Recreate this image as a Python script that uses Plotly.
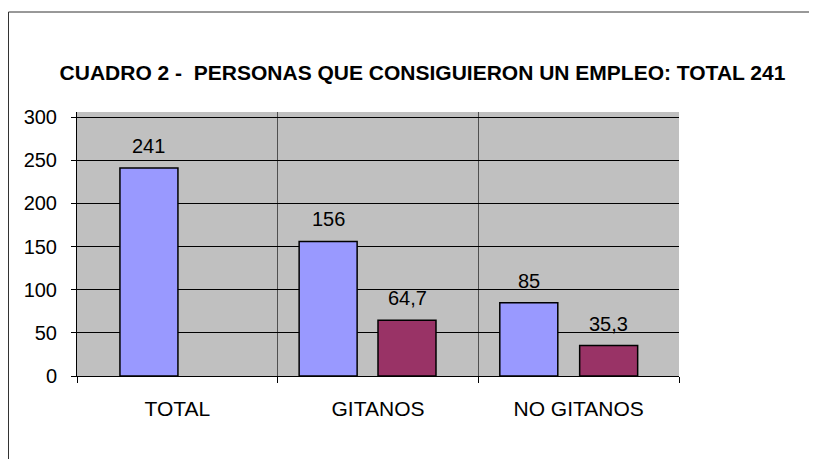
import plotly.graph_objects as go

categories = ["TOTAL", "GITANOS", "NO GITANOS"]
personas = [241, 156, 85]
porcentaje = [None, 64.7, 35.3]
labels_personas = ["241", "156", "85"]
labels_porcentaje = ["", "64,7", "35,3"]
y_ticks = [0, 50, 100, 150, 200, 250, 300]
title_text = "CUADRO 2 -\u00a0 PERSONAS QUE CONSIGUIERON UN EMPLEO: TOTAL 241"

# style
BLUE = "#9999FF"
MAROON = "#993366"
GRAY = "#C0C0C0"
FONT = "Liberation Sans, Arial, sans-serif"
bar_w = 0.289
blue_off = [-0.286, -0.393, -0.393]
maroon_off = [0.0, 0.0, 0.005]

# the page body adds an 8px offset; margins compensate for it
ML, MR, MT, MB = 69, 146, 104, 91
W, H = 817, 459
PW, PH = W - ML - MR, H - MT - MB

fig = go.Figure()
fig.add_trace(go.Bar(
    x=categories, y=personas, width=bar_w, offset=blue_off,
    marker=dict(color=BLUE, line=dict(color="black", width=1.5)),
    hoverinfo="skip", showlegend=False,
))
fig.add_trace(go.Bar(
    x=categories, y=porcentaje, width=bar_w, offset=maroon_off,
    marker=dict(color=MAROON, line=dict(color="black", width=1.5)),
    hoverinfo="skip", showlegend=False,
))

annotations = []
for i, (v, t) in enumerate(zip(personas, labels_personas)):
    annotations.append(dict(x=i + blue_off[i] + bar_w / 2, y=v, text=t,
                            showarrow=False, yanchor="bottom", yshift=9,
                            font=dict(family=FONT, size=20, color="black")))
for i, (v, t) in enumerate(zip(porcentaje, labels_porcentaje)):
    if v is None:
        continue
    annotations.append(dict(x=i + maroon_off[i] + bar_w / 2, y=v, text=t,
                            showarrow=False, yanchor="bottom", yshift=9,
                            font=dict(family=FONT, size=20, color="black")))

# outer frame: top and left edges only (the rest runs off the picture)
fx0 = (0.5 - ML) / PW
fx1 = (W + 50 - ML) / PW
fy_top = (MT + PH - 4) / PH
fy_bot = -(H + 50 - MT - PH) / PH
frame_line = dict(color="#333333", width=1)

fig.update_layout(
    width=W, height=H,
    margin=dict(l=ML, r=MR, t=MT, b=MB),
    paper_bgcolor="white", plot_bgcolor=GRAY,
    barmode="overlay",
    font=dict(family=FONT, size=20, color="black"),
    title=dict(text="<b>" + title_text + "</b>", x=(422.5 - 8) / W, xref="container",
               xanchor="center", y=1 - (72.5 - 8) / H, yref="container", yanchor="middle",
               font=dict(family=FONT, size=21, color="black")),
    annotations=annotations,
    shapes=[
        dict(type="line", xref="paper", yref="paper", x0=fx0, x1=fx1,
             y0=fy_top, y1=fy_top, line=frame_line, layer="below"),
        dict(type="line", xref="paper", yref="paper", x0=fx0, x1=fx0,
             y0=fy_bot, y1=fy_top, line=frame_line, layer="below"),
    ],
)
fig.update_xaxes(
    type="category", range=[-0.5, 2.5], tickson="boundaries",
    showgrid=True, gridcolor="#505050", gridwidth=1,
    showline=True, linecolor="black", linewidth=1,
    ticks="outside", ticklen=6, tickcolor="black",
    ticklabelstandoff=14,
    tickfont=dict(family=FONT, size=21, color="black"),
    fixedrange=True,
)
fig.update_yaxes(
    range=[0, 306], tickvals=y_ticks, ticktext=[str(v) for v in y_ticks],
    showgrid=True, gridcolor="black", gridwidth=1,
    zeroline=False,
    showline=True, linecolor="black", linewidth=1,
    ticks="outside", ticklen=5, tickcolor="black",
    ticklabelstandoff=10,
    tickfont=dict(family=FONT, size=20, color="black"),
    fixedrange=True,
)

fig.write_html("out.html")
